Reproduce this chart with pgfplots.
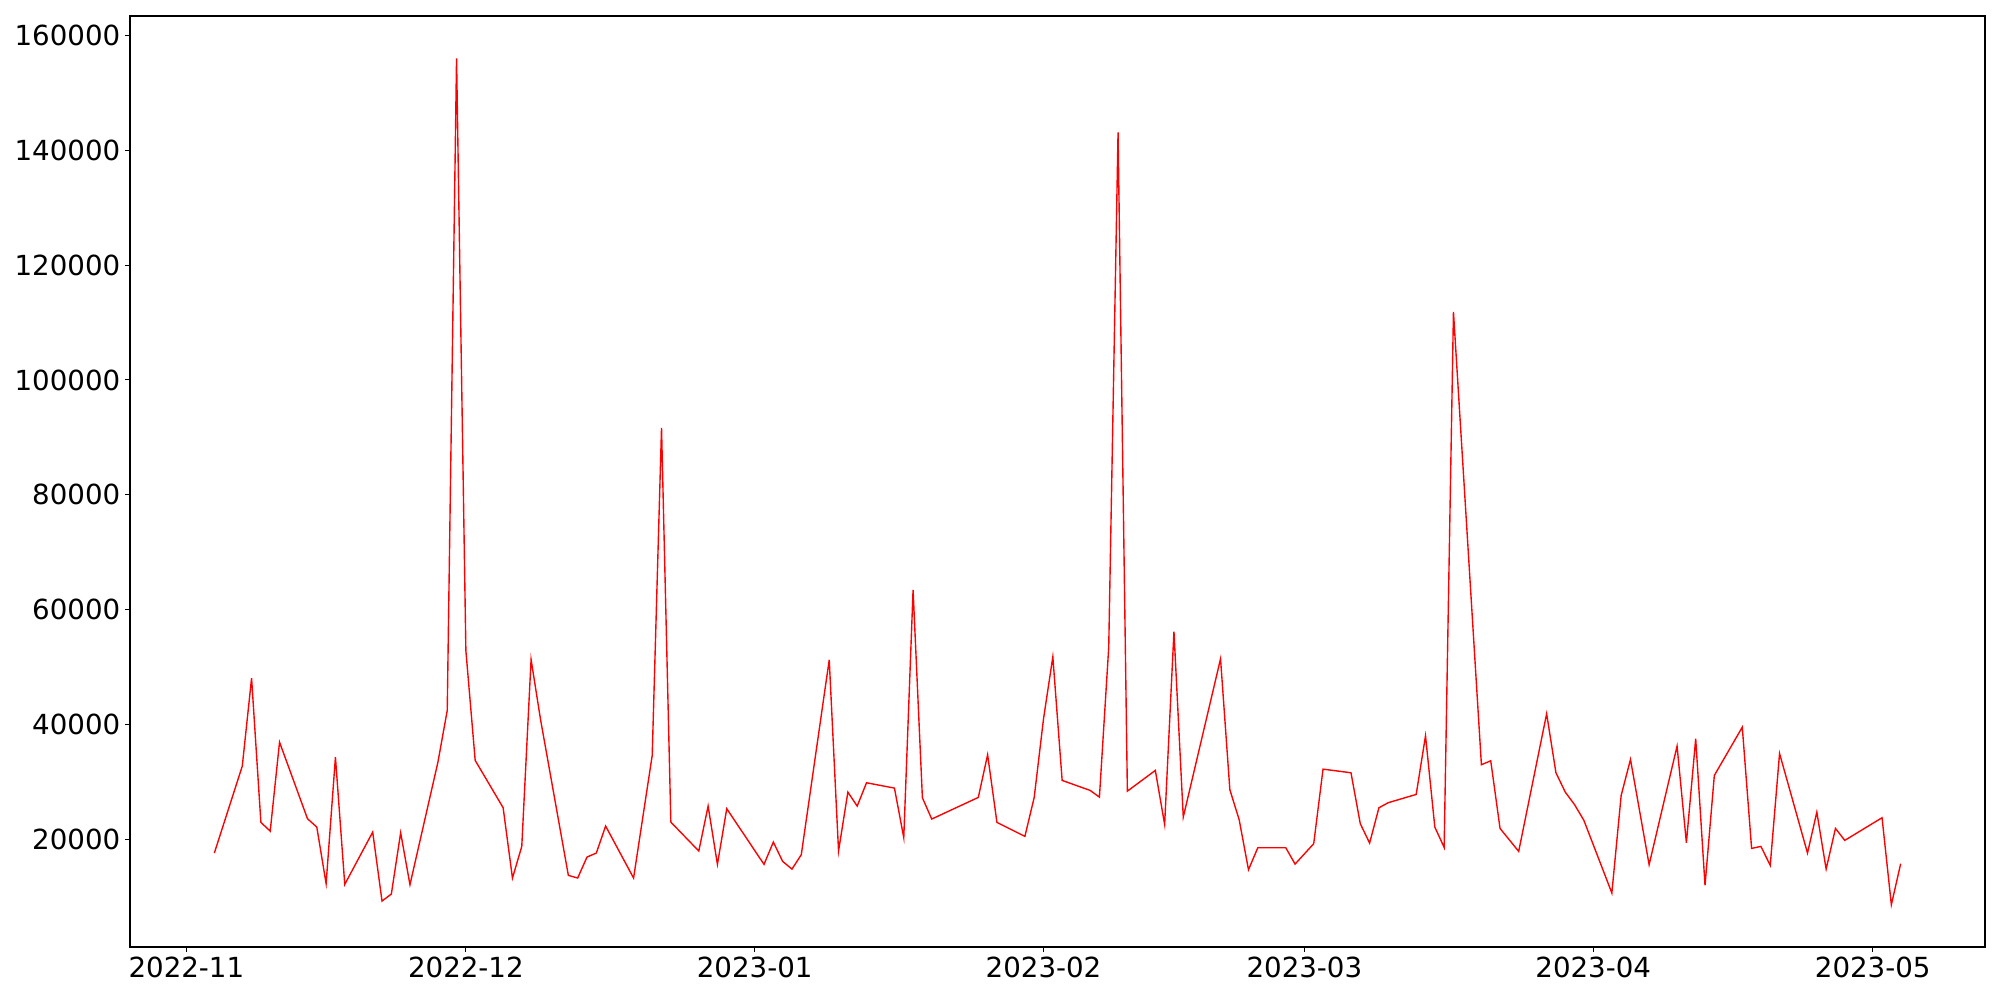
\documentclass[border=0pt]{standalone}
\usepackage{fontspec}
\setmainfont{DejaVu Sans}
\usepackage{pgfplots}
\pgfplotsset{compat=1.18}
\begin{document}
\begin{tikzpicture}
\path[use as bounding box] (0,0) rectangle (50.8cm,25.4cm);
\begin{axis}[
 at={(3.302cm,1.346cm)}, anchor=south west,
 width=47.117cm, height=23.647cm, scale only axis,
 xmin=-6.05, xmax=193.05, ymin=1262, ymax=163368,
 xtick={0,30,61,92,120,151,181},
 xticklabels={2022-11,2022-12,2023-01,2023-02,2023-03,2023-04,2023-05},
 ytick={20000,40000,60000,80000,100000,120000,140000,160000},
 scaled y ticks=false,
 /pgf/number format/fixed,
 /pgf/number format/precision=0,
 /pgf/number format/1000 sep={},
 /pgf/number format/assume math mode=true,
 tick label style={font=\fontsize{20}{24}\selectfont},
 tick align=outside, tick pos=left,
 major tick length=3.5pt,
 axis line style={line width=0.8pt},
 every tick/.style={black, line width=0.8pt},
]
\addplot[red, line width=1pt] table {
x y
3 17616
6 32755
7 48068
8 22958
9 21444
10 36930
13 23600
14 22140
15 12290
16 34320
17 12170
20 21270
21 9265
22 10485
23 21160
24 12110
27 33450
28 42450
29 156000
30 52890
31 33750
34 25510
35 13270
36 18780
37 51320
38 41000
41 13736
42 13270
43 16920
44 17620
45 22320
48 13270
50 34620
51 91640
52 23010
55 17970
56 25800
57 15650
58 25340
62 15650
63 19530
64 16170
65 14830
66 17330
69 51270
70 17970
71 28230
72 25800
73 29860
76 28930
77 20290
78 63450
79 27250
80 23540
85 27310
86 34740
87 22960
90 20520
91 27310
92 41000
93 51790
94 30270
97 28530
98 27360
99 53460
100 143120
101 28400
104 32010
105 22610
106 56190
107 23880
111 51440
112 28650
113 23420
114 14720
115 18550
118 18550
119 15700
121 19250
122 32230
125 31600
126 22730
127 19360
128 25510
129 26390
132 27830
133 38040
134 22140
135 18610
136 111840
139 33000
140 33690
141 21910
143 17910
146 41870
147 31600
148 28230
149 26040
150 23310
153 10660
154 27660
155 33920
157 15600
160 36240
161 19420
162 37520
163 12000
164 31140
167 39540
168 18430
169 18780
170 15476
171 34960
174 17620
175 24750
176 14830
177 21910
178 19830
182 23770
183 8630
184 15770
};
\end{axis}
\end{tikzpicture}
\end{document}
